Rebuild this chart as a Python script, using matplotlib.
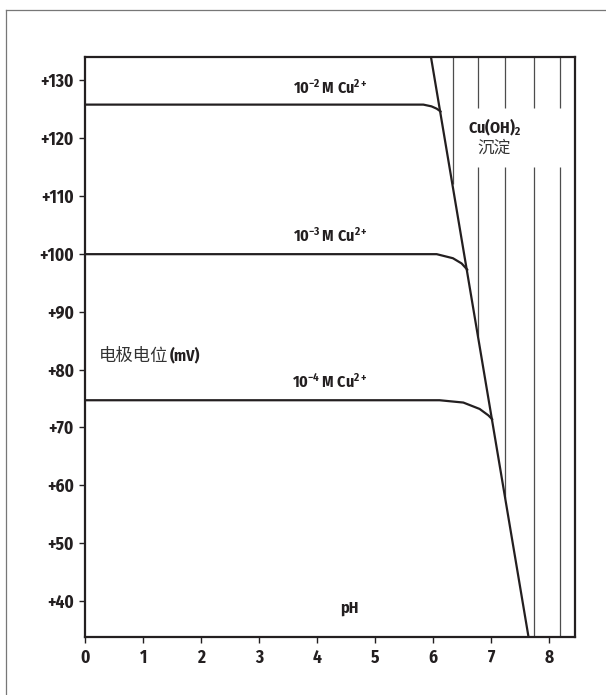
import numpy as np
import matplotlib.pyplot as plt
from matplotlib.lines import Line2D

narrow = 'Fira Sans Condensed'
plt.rcParams['font.family'] = [narrow, 'DejaVu Sans']
plt.rcParams['mathtext.fontset'] = 'custom'
plt.rcParams['mathtext.rm'] = narrow + ':bold'
plt.rcParams['mathtext.it'] = narrow + ':bold'
plt.rcParams['mathtext.bf'] = narrow + ':bold'
plt.rcParams['mathtext.fallback'] = 'stixsans'

# curves (pH, mV)
ph_2 = [0, 5.83, 5.97, 6.06, 6.13]
mv_2 = [125.7, 125.7, 125.4, 125.0, 124.5]
ph_3 = [0, 6.06, 6.34, 6.49, 6.59]
mv_3 = [99.9, 99.9, 99.2, 98.3, 97.2]
ph_4 = [0, 6.11, 6.52, 6.80, 6.95, 7.02]
mv_4 = [74.7, 74.7, 74.3, 73.2, 72.1, 71.4]

# Cu(OH)2 boundary
ph_bound = [5.96, 7.645]
mv_bound = [134.0, 33.8]

# hatch lines of precipitate region
hatch_x = [6.34, 6.77, 7.24, 7.74, 8.19]
hatch_low = [112.0, 85.8, 57.8, 33.8, 33.8]
gap_low, gap_high = 115.0, 125.1

xticks = [0, 1, 2, 3, 4, 5, 6, 7, 8]
yticks = [40, 50, 60, 70, 80, 90, 100, 110, 120, 130]

fig = plt.figure(figsize=(6.06, 6.95), dpi=100)
ax = fig.add_axes([0.1408, 0.0830, 0.8075, 0.8357])
ax.set_xlim(0, 8.44)
ax.set_ylim(33.8, 134.0)

ink = '#231f20'
for i, x in enumerate(hatch_x):
    if i == 0:
        ax.vlines(x, hatch_low[i], 134.0, color='#4d4d4d', lw=0.9)
    else:
        ax.vlines(x, gap_high, 134.0, color='#4d4d4d', lw=0.9)
        ax.vlines(x, hatch_low[i], gap_low, color='#4d4d4d', lw=0.9)

ax.plot(ph_bound, mv_bound, color=ink, lw=1.6)
for px, mv in [(ph_2, mv_2), (ph_3, mv_3), (ph_4, mv_4)]:
    ax.plot(px, mv, color=ink, lw=1.6, solid_capstyle='round')

for s in ax.spines.values():
    s.set_linewidth(1.6)
    s.set_color(ink)

ax.set_xticks(xticks)
ax.set_xticklabels([str(v) for v in xticks])
ax.set_yticks(yticks)
ax.set_yticklabels(['+%d' % v for v in yticks])
ax.tick_params(direction='out', length=4.3, width=1.0, color=ink, pad=4,
               labelsize=12.5, labelcolor=ink)
for lab in ax.get_xticklabels() + ax.get_yticklabels():
    lab.set_fontweight('bold')

ax.text(4.22, 128.7, r'$10^{-2}\,\mathrm{M\ Cu}^{2+}$', ha='center', va='center', fontsize=11.5, color=ink)
ax.text(4.22, 103.0, r'$10^{-3}\,\mathrm{M\ Cu}^{2+}$', ha='center', va='center', fontsize=11.5, color=ink)
ax.text(4.22, 77.9, r'$10^{-4}\,\mathrm{M\ Cu}^{2+}$', ha='center', va='center', fontsize=11.5, color=ink)

ax.text(0.24, 82.4, '电极电位', family=['Noto Sans CJK SC'], fontsize=12.5, color='#333333',
        ha='left', va='center')
ax.text(1.45, 82.4, '(mV)', fontsize=11.5, fontweight='bold', color=ink, ha='left', va='center')

ax.text(7.06, 121.8, r'$\mathrm{Cu(OH)}_2$', ha='center', va='center', fontsize=11.5, color=ink)
ax.text(7.05, 118.2, '沉淀', family=['Noto Sans CJK SC'], fontsize=12, color='#333333',
        ha='center', va='center')

ax.text(4.55, 38.8, 'pH', ha='center', va='center', fontsize=11.5, fontweight='bold', color=ink)

# outer frame (left and top edges only visible)
fx = 6.3 / 606
fy = 1 - 9.7 / 695
fig.add_artist(Line2D([fx, fx], [0, fy], transform=fig.transFigure, color='#777777', lw=0.9))
fig.add_artist(Line2D([fx, 1], [fy, fy], transform=fig.transFigure, color='#777777', lw=0.9))

fig.savefig('out.png', dpi=100)
